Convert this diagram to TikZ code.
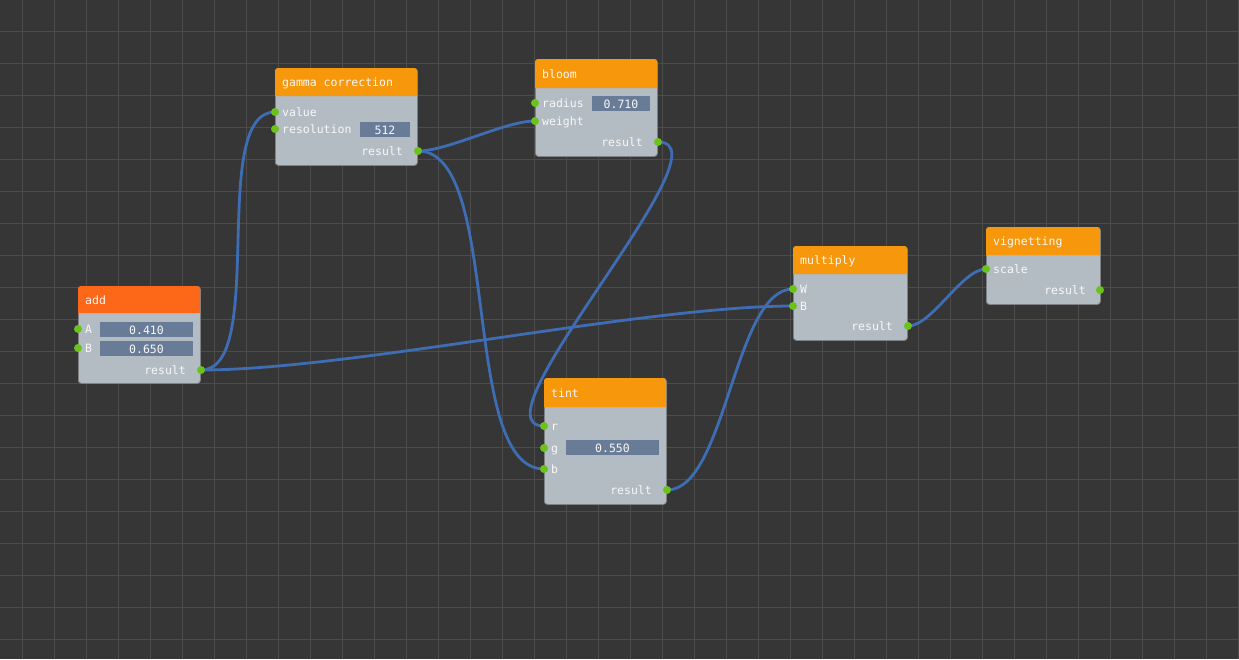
\documentclass[tikz,border=0pt]{standalone}
\usepackage{fontspec}
\setmonofont{DejaVu Sans Mono}
\pgfdeclarelayer{bg}
\pgfdeclarelayer{edges}
\pgfsetlayers{bg,edges,main}
\definecolor{bgc}{HTML}{363636}
\definecolor{gridc}{HTML}{4C4C4C}
\definecolor{hdr}{HTML}{F7980C}
\definecolor{hdradd}{HTML}{FD6718}
\definecolor{bodyc}{HTML}{B3BBC3}
\definecolor{borderc}{HTML}{7E8286}
\definecolor{fieldc}{HTML}{687C98}
\definecolor{portc}{HTML}{6BC21C}
\definecolor{wirec}{HTML}{3E6DB4}
\definecolor{txtc}{HTML}{F8F8F8}
\tikzset{
  port/.style={circle, fill=portc, inner sep=0pt, minimum size=8pt},
  wire/.style={draw=wirec, line width=2.8pt, line cap=round},
  lbl/.style={text=txtc, font=\ttfamily\fontsize{11.5}{12}\selectfont, inner sep=0pt, text height=8pt, text depth=2pt, yshift=-1.5pt},
  nbody/.style={fill=bodyc, draw=borderc, line width=0.8pt, rounded corners=3pt},
  fieldbox/.style={fill=fieldc, draw=none}
}
% name, x, y, width, height, header height, header colour, title
\newcommand{\gnode}[8]{%
  \node[nbody, anchor=north west, minimum width=#4pt, minimum height=#5pt, inner sep=0pt] (#1) at (#2,#3) {};
  \path[fill=#7] (#2,#3+#6) [rounded corners=3pt] -- (#2,#3) -- (#2+#4,#3) [sharp corners] -- (#2+#4,#3+#6) -- cycle;
  \node[lbl, anchor=west] (#1-title) at (#2+7,#3+#6/2) {#8};
}
\newcommand{\gfield}[6]{%
  \fill[fieldc] (#2,#3) rectangle (#4,#5);
  \node[lbl] (#1) at ({(#2+#4)/2},{(#3+#5)/2}) {#6};
}
\begin{document}
\begin{tikzpicture}[x=1pt,y=-1pt]
\useasboundingbox (0,0) rectangle (1239,659);
\begin{pgfonlayer}{bg}
  \fill[bgc] (0,0) rectangle (1239,659);
  \foreach \x in {22,54,...,1238} \draw[gridc, line width=1pt] (\x,0) -- (\x,659);
  \foreach \y in {31,63,...,658} \draw[gridc, line width=1pt] (0,\y) -- (1239,\y);
\end{pgfonlayer}

% add
\gnode{add}{78}{286}{122}{97}{27}{hdradd}{add}
\node[port] (add-A) at (78,329) {};
\node[lbl, anchor=west] at (85,329) {A};
\node[port] (add-B) at (78,348) {};
\node[lbl, anchor=west] at (85,348) {B};
\gfield{add-fA}{100}{322}{193}{337}{0.410}
\gfield{add-fB}{100}{341}{193}{356}{0.650}
\node[port] (add-result) at (201,370) {};
\node[lbl, anchor=east] at (186,370) {result};

% gamma correction
\gnode{gamma}{275}{68}{142}{97}{28}{hdr}{gamma correction}
\node[port] (gamma-value) at (275,112) {};
\node[lbl, anchor=west] at (282,112) {value};
\node[port] (gamma-res) at (275,129) {};
\node[lbl, anchor=west] at (282,129) {resolution};
\gfield{gamma-f}{360}{122}{410}{137}{512}
\node[port] (gamma-result) at (418,151) {};
\node[lbl, anchor=east] at (403,151) {result};

% bloom
\gnode{bloom}{535}{59}{122}{97}{29}{hdr}{bloom}
\node[port] (bloom-radius) at (535,103) {};
\node[lbl, anchor=west] at (542,103) {radius};
\node[port] (bloom-weight) at (535,121) {};
\node[lbl, anchor=west] at (542,121) {weight};
\gfield{bloom-f}{592}{96}{650}{111}{0.710}
\node[port] (bloom-result) at (658,142) {};
\node[lbl, anchor=east] at (643,142) {result};

% tint
\gnode{tint}{544}{378}{122}{126}{29}{hdr}{tint}
\node[port] (tint-r) at (544,426) {};
\node[lbl, anchor=west] at (551,426) {r};
\node[port] (tint-g) at (544,448) {};
\node[lbl, anchor=west] at (551,448) {g};
\node[port] (tint-b) at (544,469) {};
\node[lbl, anchor=west] at (551,469) {b};
\gfield{tint-f}{566}{440}{659}{455}{0.550}
\node[port] (tint-result) at (667,490) {};
\node[lbl, anchor=east] at (652,490) {result};

% multiply
\gnode{multiply}{793}{246}{114}{94}{28}{hdr}{multiply}
\node[port] (mul-W) at (793,289) {};
\node[lbl, anchor=west] at (800,289) {W};
\node[port] (mul-B) at (793,306) {};
\node[lbl, anchor=west] at (800,306) {B};
\node[port] (mul-result) at (908,326) {};
\node[lbl, anchor=east] at (893,326) {result};

% vignetting
\gnode{vignetting}{986}{227}{114}{77}{28}{hdr}{vignetting}
\node[port] (vig-scale) at (986,269) {};
\node[lbl, anchor=west] at (993,269) {scale};
\node[port] (vig-result) at (1100,290) {};
\node[lbl, anchor=east] at (1086,290) {result};

\begin{pgfonlayer}{edges}
  \draw[wire] (add-result.center) .. controls +(67,0) and +(-67,0) .. (gamma-value.center);
  \draw[wire] (gamma-result.center) .. controls +(30,0) and +(-30,0) .. (bloom-weight.center);
  \draw[wire] (gamma-result.center) .. controls +(85,0) and +(-85,0) .. (tint-b.center);
  \draw[wire] (bloom-result.center) .. controls +(76,0) and +(-76,0) .. (tint-r.center);
  \draw[wire] (add-result.center) .. controls +(149,0) and +(-149,0) .. (mul-B.center);
  \draw[wire] (tint-result.center) .. controls +(59,0) and +(-59,0) .. (mul-W.center);
  \draw[wire] (mul-result.center) .. controls +(24,0) and +(-24,0) .. (vig-scale.center);
\end{pgfonlayer}
\end{tikzpicture}
\end{document}
